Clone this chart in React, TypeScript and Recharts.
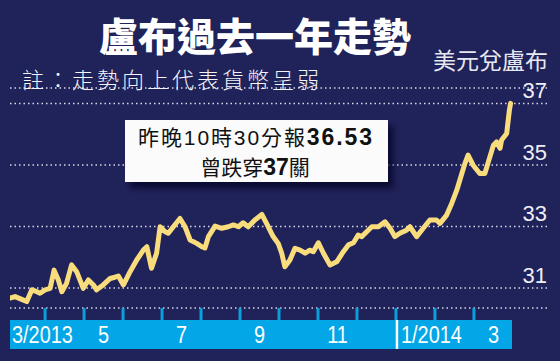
import React from 'react';
import { LineChart, Line, XAxis, YAxis, CartesianGrid } from 'recharts';

// x in months since 1 Mar 2013 (1 = Apr 1, 10 = Jan 1 2014, 12 = Mar 1 2014)
const lineT = [
  0.1, 0.23, 0.4, 0.53, 0.66, 0.79, 0.87, 1.0, 1.13, 1.23, 1.34, 1.43, 1.55, 1.68, 1.81, 1.98,
  2.11, 2.24, 2.32, 2.49, 2.67, 2.79, 2.88, 3.01, 3.18, 3.35, 3.52, 3.61, 3.73, 3.86, 3.95,
  4.08, 4.16, 4.29, 4.46, 4.59, 4.72, 4.89, 5.02, 5.1, 5.19, 5.36, 5.53, 5.7, 5.83, 5.96,
  6.08, 6.21, 6.38, 6.56, 6.68, 6.85, 6.98, 7.07, 7.15, 7.28, 7.41, 7.54, 7.67, 7.79, 7.88,
  8.01, 8.14, 8.31, 8.48, 8.65, 8.78, 8.91, 9.03, 9.12, 9.25, 9.38, 9.55, 9.72, 9.85, 9.97,
  10.1, 10.27, 10.36, 10.53, 10.7, 10.87, 11.04, 11.13, 11.3, 11.43, 11.56, 11.69, 11.77,
  11.85, 11.98, 12.15, 12.28, 12.37, 12.5, 12.58, 12.67, 12.71, 12.84, 12.86, 12.91, 12.94,
];
const lineV = [
  30.67, 30.72, 30.63, 30.56, 30.94, 30.88, 30.83, 30.94, 30.99, 31.58, 31.26, 30.88, 31.15, 31.75, 31.53, 30.99,
  31.26, 31.1, 30.94, 31.1, 31.31, 31.35, 31.39, 31.1, 31.53, 31.91, 32.23, 32.34, 31.64, 32.13, 32.99,
  32.83, 32.78, 32.99, 33.26, 32.99, 32.56, 32.45, 32.34, 32.3, 32.67, 33.01, 32.94, 32.99, 33.05, 32.99,
  33.12, 32.99, 33.21, 33.39, 33.1, 32.67, 32.45, 32.13, 31.69, 31.91, 32.29, 32.23, 32.13, 32.23, 32.18,
  32.47, 32.13, 31.75, 31.85, 32.18, 32.4, 32.47, 32.72, 32.67, 32.83, 32.99, 32.99, 33.15, 32.94, 32.67,
  32.78, 32.88, 32.99, 32.67, 32.94, 33.21, 33.21, 33.1, 33.37, 33.75, 34.18, 34.72, 35.05,
  35.32, 34.99, 34.72, 34.72, 35.1, 35.64, 35.75, 35.54, 35.81, 36.02, 36.24, 36.78, 37.0,
];

const monthStarts = [1, 2, 3, 4, 5, 6, 7, 8, 9, 10, 11, 12];
const labelPos = [0.1, 2.5, 4.5, 6.5, 8.5, 10, 12.5];
const labelText = ['3/2013', '5', '7', '9', '11', '1/2014', '3'];
const yTicks = [31, 33, 35, 37];

const title = '盧布過去一年走勢';
const subtitle = '註：走勢向上代表貨幣呈弱';
const unitLabel = '美元兌盧布';

const data = lineT.map((t, i) => ({ t, v: lineV[i] }));
const xTicks = Array.from(new Set([...monthStarts, ...labelPos])).sort((a, b) => a - b);

const BG = '#20225a';
const BLUE = '#03a6e6';
const TICKBLUE = '#0b9fdc';
const YELLOW = '#f9dc7c';

const MonthTick = (props: any) => {
  const { x, y, payload } = props;
  const v = payload.value;
  const isStart = monthStarts.includes(v);
  const idx = labelPos.indexOf(v);
  const text = idx >= 0 ? labelText[idx] : '';
  const long = text.length > 2;
  const isJan = v === 10;
  const tx = long ? x + (isJan ? 5 : 2) : x;
  return (
    <g>
      {isStart && <line x1={x} x2={x} y1={y} y2={y + 12} stroke={TICKBLUE} strokeWidth={3} />}
      {isJan && <line x1={x + 1} x2={x + 1} y1={y + 12} y2={y + 41} stroke="#ffffff" strokeWidth={2.5} />}
      {text && (
        <text
          transform={`translate(${tx},${y + 35}) scale(0.83,1)`}
          x={0}
          y={0}
          textAnchor={long ? 'start' : 'middle'}
          fill="#ffffff"
          fontSize={24}
          fontFamily="'Liberation Sans', Arial, sans-serif"
        >
          {text}
        </text>
      )}
    </g>
  );
};

const YLabel = (props: any) => {
  const { y, payload } = props;
  return (
    <text x={547} y={y - 5} textAnchor="end" fill="#eeeef4" fontSize={22} fontFamily="'Liberation Sans', Arial, sans-serif">
      {payload.value}
    </text>
  );
};

export default function App() {
  return (
    <div style={{ position: 'absolute', left: 0, top: 0, width: 560, height: 361, background: BG, overflow: 'hidden' }}>
      <div style={{ position: 'absolute', left: 10, top: 320, width: 502, height: 29, background: BLUE }} />
      <div style={{ position: 'absolute', left: 0, top: 0 }}>
        <LineChart width={560} height={361} data={data} margin={{ top: 88, right: 11, bottom: 12, left: 10 }}>
          <CartesianGrid vertical={false} stroke="#d8d8e6" strokeWidth={1.5} strokeDasharray="1.5 3" />
          <XAxis
            dataKey="t"
            type="number"
            domain={[0.1, 13.9]}
            ticks={xTicks}
            interval={0}
            tickSize={0}
            tickMargin={0}
            tickLine={false}
            axisLine={false}
            tick={<MonthTick />}
            height={41}
            allowDataOverflow
          />
          <YAxis
            orientation="right"
            domain={[30.35, 37.5]}
            ticks={yTicks}
            interval={0}
            tickSize={0}
            tickMargin={0}
            tickLine={false}
            axisLine={false}
            tick={<YLabel />}
            width={1}
            allowDataOverflow
          />
          <Line
            dataKey="v"
            type="linear"
            stroke={YELLOW}
            strokeWidth={5}
            strokeLinejoin="round"
            strokeLinecap="round"
            dot={false}
            isAnimationActive={false}
          />
        </LineChart>
      </div>
      <svg width={560} height={361} style={{ position: 'absolute', left: 0, top: 0, pointerEvents: 'none' }}>
        <defs>
          <filter id="shadow" x="-20%" y="-20%" width="140%" height="160%">
            <feGaussianBlur stdDeviation="3" />
          </filter>
        </defs>
        <text x={255} y={51} textAnchor="middle" fill="#ffffff" fontSize={39} fontWeight={900}
          fontFamily="'Noto Sans CJK TC', sans-serif">{title}</text>
        <text x={22} y={88} fill="#f4f4f8" fontSize={22} fontWeight={300} letterSpacing={3}
          fontFamily="'Noto Sans CJK TC', sans-serif">{subtitle}</text>
        <text x={548} y={69} textAnchor="end" fill="#e8e8f0" fontSize={23}
          fontFamily="'Noto Sans CJK TC', sans-serif">{unitLabel}</text>
        <rect x={130} y={126} width={263} height={62} fill="#05061e" opacity={0.7} filter="url(#shadow)" />
        <rect x={125} y={120} width={263} height={62} fill="#fbfbfb" />
        <text x={138} y={145} fill="#111111" fontSize={21} textLength={234} lengthAdjust="spacing"
          fontFamily="'Noto Sans CJK TC', sans-serif">
          <tspan>昨晚</tspan>
          <tspan fontFamily="'Liberation Sans', Arial, sans-serif">10</tspan>
          <tspan>時</tspan>
          <tspan fontFamily="'Liberation Sans', Arial, sans-serif">30</tspan>
          <tspan>分報</tspan>
          <tspan fontFamily="'Liberation Sans', Arial, sans-serif" fontWeight={700} fontSize={23}>36.53</tspan>
        </text>
        <text x={255} y={175} textAnchor="middle" fill="#111111" fontSize={21}
          fontFamily="'Noto Sans CJK TC', sans-serif">
          <tspan>曾跌穿</tspan>
          <tspan fontFamily="'Liberation Sans', Arial, sans-serif" fontWeight={700} fontSize={23}>37</tspan>
          <tspan>關</tspan>
        </text>
      </svg>
    </div>
  );
}
